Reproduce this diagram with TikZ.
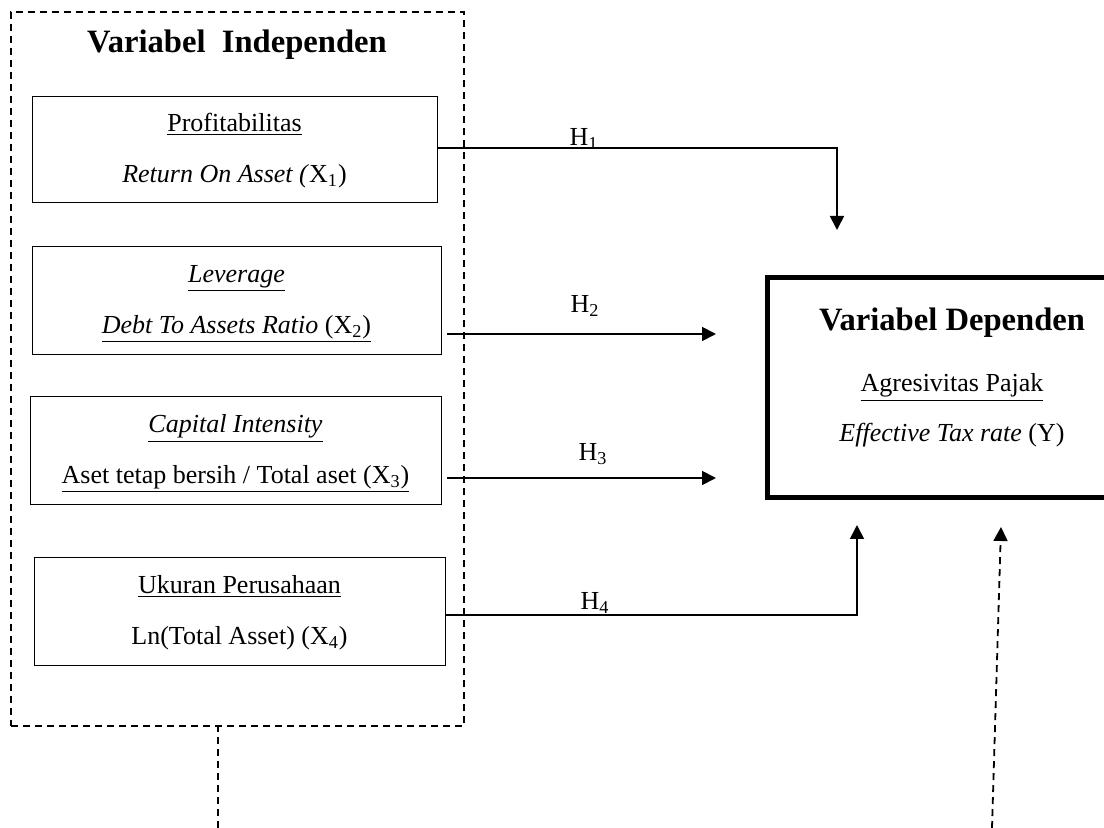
\documentclass[tikz,border=0pt]{standalone}
\usepackage{fontspec}
\setmainfont{Liberation Serif}
\usetikzlibrary{arrows.meta}

\tikzset{
  indep/.style={draw, line width=0.5pt, inner sep=0pt, align=center,
    text height=32.5pt, text depth=0pt, font=\fontsize{13}{25.5}\selectfont},
  depbox/.style={draw, line width=2.5pt, inner sep=0pt},
  kerangka/.style={draw, dashed, dash pattern=on 3.5pt off 2.5pt, line width=0.9pt, inner sep=0pt},
  judul/.style={font=\fontsize{16.3}{20}\selectfont\bfseries, anchor=base},
  teks/.style={font=\fontsize{13}{16}\selectfont, anchor=base},
  hyp/.style={line width=0.9pt, -{Triangle[length=7pt,width=7pt]}},
  putus/.style={line width=0.9pt, dashed, dash pattern=on 3.5pt off 2.5pt},
}

\begin{document}
\begin{tikzpicture}[x=0.5pt,y=-0.5pt]
  \useasboundingbox (0,0) rectangle (1104,828);
  \clip (0,0) rectangle (1104,828);

%independent variables:
  \node[kerangka, minimum width=226.5pt, minimum height=357pt] (bingkai) at (237.5,369) {};
  \node[judul] (judulX) at (237,53) {Variabel\ \ Independen};

  \node[indep, minimum width=202.5pt, minimum height=53pt] (x1) at (234.5,150)
    {\underline{Profitabilitas}\\\textit{Return On Asset (}X\textsubscript{1})};
  \node[indep, minimum width=204.5pt, minimum height=54pt] (x2) at (236.5,301)
    {\underline{\textit{Leverage}}\\\underline{\textit{Debt To Assets Ratio} (X\textsubscript{2})}};
  \node[indep, minimum width=205.5pt, minimum height=54pt] (x3) at (235.5,451)
    {\underline{\textit{Capital Intensity}}\\\underline{Aset tetap bersih / Total aset (X\textsubscript{3})}};
  \node[indep, minimum width=205.5pt, minimum height=54pt] (x4) at (239.5,612)
    {\underline{Ukuran Perusahaan}\\Ln(Total Asset) (X\textsubscript{4})};

%dependent variable:
  \node[depbox, minimum width=185pt, minimum height=110pt] (y) at (952,388) {};
  \node[judul] (judulY) at (952,331) {Variabel Dependen};
  \node[teks] (yname) at (952,392) {\underline{Agresivitas Pajak}};
  \node[teks] (yproxy) at (952,442) {\textit{Effective Tax rate} (Y)};
%%%%%%

  \coordinate (h1turn) at (837,148);
  \coordinate (h1end) at (837,230);
  \coordinate (h2end) at (716,334);
  \coordinate (h3end) at (716,478);
  \coordinate (h4turn) at (857,615);
  \coordinate (h4end) at (857,525);

  \draw[hyp] (x1.east |- h1turn) -- (h1turn) -- (h1end);
  \draw[hyp, shorten <=2.5pt] (x2.east |- h2end) -- (h2end);
  \draw[hyp, shorten <=2.5pt] (x3.east |- h3end) -- (h3end);
  \draw[hyp] (x4.east |- h4turn) -- (h4turn) -- (h4end);

  \node[teks] (lh1) at (584,146) {H\textsubscript{1}};
  \node[teks] (lh2) at (585,313) {H\textsubscript{2}};
  \node[teks] (lh3) at (593,461) {H\textsubscript{3}};
  \node[teks] (lh4) at (595,610) {H\textsubscript{4}};

  \coordinate (kiribawah) at (218,828);
  \coordinate (kananbawah) at (992,828);
  \coordinate (kananatas) at (1001,527);
  \draw[putus] (kiribawah) -- (kiribawah |- bingkai.south);
  \draw[putus, -{Triangle[length=7pt,width=7pt]}] (kananbawah) -- (kananatas);
\end{tikzpicture}
\end{document}
